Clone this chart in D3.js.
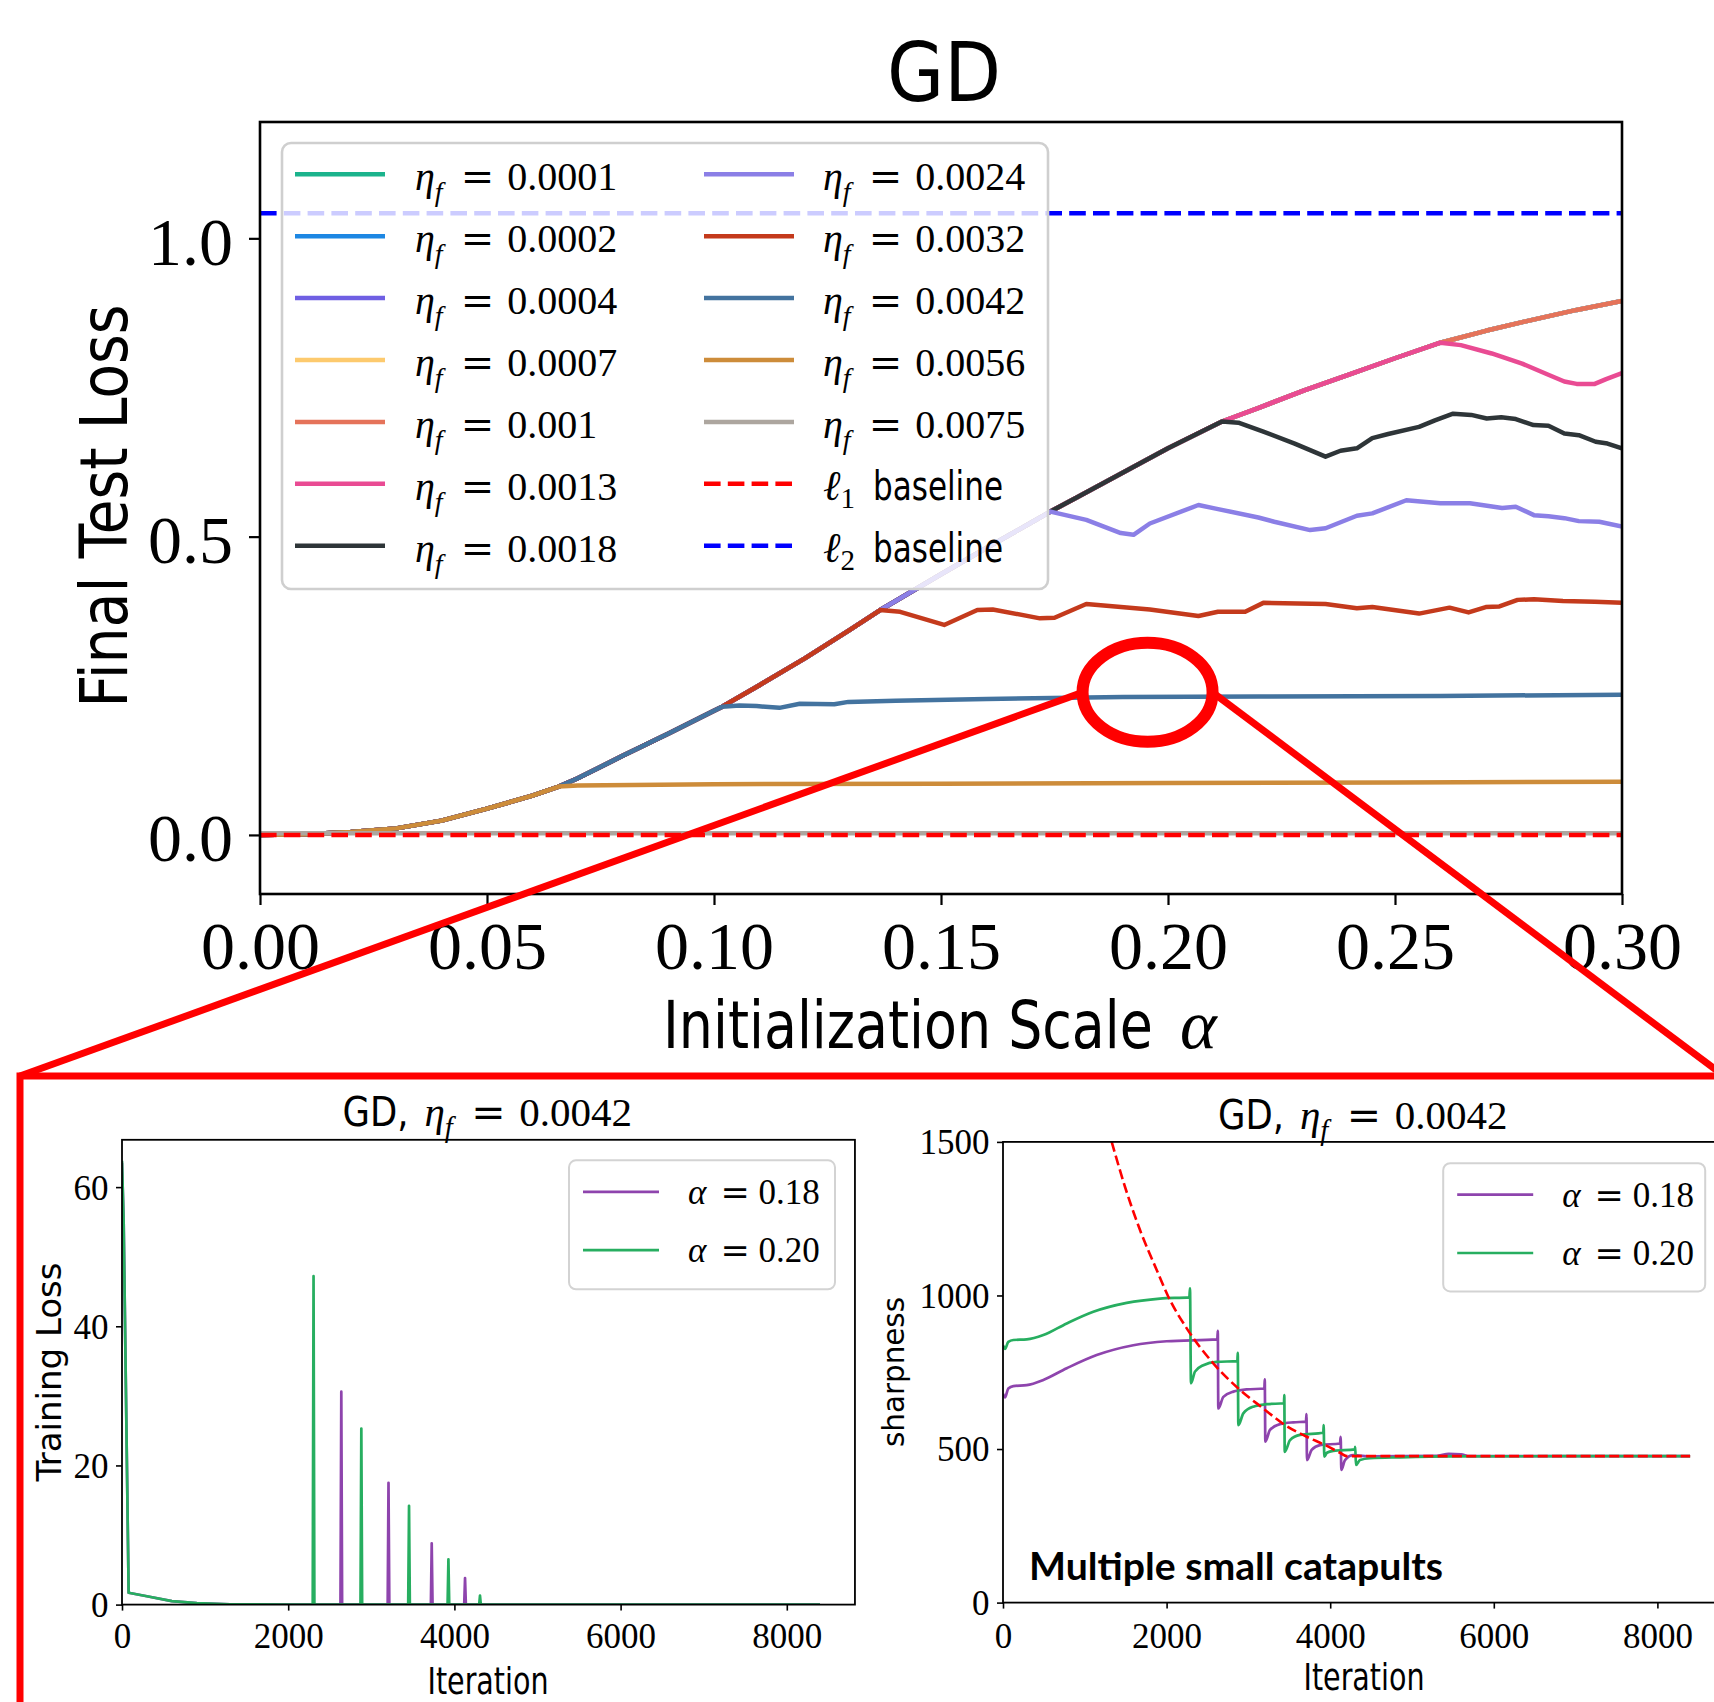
<!DOCTYPE html>
<html>
<head>
<meta charset="utf-8">
<script src="https://cdn.jsdelivr.net/npm/d3@7"></script>
<style>
  body { margin: 0; background: #fff; }
  svg { display: block; }
</style>
</head>
<body>
<div id="chart"></div>
<script>
// ---- fonts
const SANS = "'DejaVu Sans Condensed','DejaVu Sans',sans-serif";
const SERIF = "'Liberation Serif','DejaVu Serif',serif";
const EQ_FONT = "'DejaVu Serif','Liberation Serif',serif";   // wider '=' like the TeX one

// ---- top panel: final test loss vs init scale
const etaValues = ["0.0001", "0.0002", "0.0004", "0.0007", "0.001", "0.0013", "0.0018",
                   "0.0024", "0.0032", "0.0042", "0.0056", "0.0075"];
const etaColors = ["#1bb38c", "#1d87e3", "#6f5fe3", "#fdca6e", "#e5735a", "#e94b93", "#2e3538",
                   "#8b7fe6", "#c43a1c", "#43739f", "#cd8c3a", "#ada69f"];

// shared curve that every run follows before it breaks away
const envAlpha = [0, 0.01, 0.02, 0.03, 0.04, 0.05, 0.06, 0.0658, 0.07, 0.08, 0.09, 0.10, 0.1018,
                  0.11, 0.12, 0.13, 0.1366, 0.14, 0.15, 0.16, 0.17, 0.1741, 0.18, 0.19, 0.20, 0.21,
                  0.2119, 0.22, 0.23, 0.24, 0.25, 0.26, 0.27, 0.28, 0.29, 0.30];
const envLoss = [0, 0.001, 0.005, 0.011, 0.024, 0.044, 0.066, 0.081, 0.095, 0.133, 0.170, 0.208, 0.215,
                 0.251, 0.296, 0.344, 0.377, 0.392, 0.437, 0.481, 0.524, 0.542, 0.566, 0.607, 0.648, 0.686,
                 0.693, 0.716, 0.745, 0.772, 0.799, 0.825, 0.845, 0.863, 0.880, 0.895];

// alpha where each run leaves the shared curve (null = never)
const breakAlpha = [null, null, null, null, null, 0.26, 0.2119, 0.1741, 0.1366, 0.1018, 0.0658, 0];

const tail0013 = [[0.26, 0.825], [0.2645, 0.821], [0.2713, 0.807], [0.278, 0.790], [0.2839, 0.771],
  [0.2873, 0.760], [0.290, 0.756], [0.294, 0.756], [0.2965, 0.764], [0.30, 0.774]];
const tail0018 = [[0.2119, 0.693], [0.2155, 0.691], [0.221, 0.676], [0.2279, 0.656], [0.2347, 0.634],
  [0.238, 0.644], [0.2416, 0.648], [0.245, 0.665], [0.2485, 0.672], [0.2553, 0.684], [0.2588, 0.695],
  [0.2628, 0.706], [0.2668, 0.704], [0.2702, 0.698], [0.2734, 0.700], [0.2766, 0.697], [0.2805, 0.687],
  [0.2838, 0.686], [0.2873, 0.673], [0.2905, 0.670], [0.2942, 0.659], [0.2968, 0.656], [0.30, 0.648]];
const tail0024 = [[0.1741, 0.542], [0.182, 0.528], [0.1896, 0.506], [0.1924, 0.503], [0.196, 0.522],
  [0.2067, 0.553], [0.2105, 0.547], [0.2199, 0.532], [0.2234, 0.525], [0.2313, 0.511], [0.2347, 0.514],
  [0.2416, 0.535], [0.245, 0.539], [0.2525, 0.561], [0.26, 0.556], [0.2665, 0.556], [0.2736, 0.548],
  [0.2766, 0.550], [0.2806, 0.536], [0.2838, 0.534], [0.2873, 0.531], [0.2905, 0.526], [0.295, 0.525],
  [0.30, 0.517]];
const tail0032 = [[0.1366, 0.377], [0.141, 0.374], [0.1507, 0.352], [0.158, 0.377], [0.1614, 0.378],
  [0.1718, 0.363], [0.175, 0.364], [0.182, 0.387], [0.196, 0.378], [0.2067, 0.367], [0.211, 0.374],
  [0.217, 0.374], [0.221, 0.389], [0.2347, 0.387], [0.2416, 0.380], [0.245, 0.382], [0.2553, 0.371],
  [0.262, 0.381], [0.2662, 0.373], [0.270, 0.382], [0.273, 0.383], [0.277, 0.394], [0.2806, 0.395],
  [0.287, 0.392], [0.294, 0.391], [0.30, 0.389]];
const tail0042 = [[0.1018, 0.215], [0.1056, 0.217], [0.1094, 0.216], [0.1144, 0.213], [0.1189, 0.220],
  [0.1265, 0.219], [0.1296, 0.223], [0.14, 0.225], [0.16, 0.228], [0.19, 0.231], [0.22, 0.232],
  [0.26, 0.233], [0.30, 0.235]];
const tail0056 = [[0.0658, 0.081], [0.07, 0.083], [0.10, 0.085], [0.15, 0.086], [0.20, 0.087],
  [0.25, 0.088], [0.30, 0.089]];
const tail0075 = [[0, 0.003], [0.05, 0.003], [0.10, 0.003], [0.15, 0.003], [0.20, 0.003],
  [0.25, 0.003], [0.30, 0.003]];
const tails = [null, null, null, null, null, tail0013, tail0018, tail0024, tail0032, tail0042, tail0056, tail0075];

const l1Baseline = 0;
const l2Baseline = 1.042;
const alphaTicks = [0, 0.05, 0.10, 0.15, 0.20, 0.25, 0.30];
const lossTicks = [0, 0.5, 1.0];
const zoomSpot = [0.1955, 0.239];   // the circled spot

// ---- bottom insets (eta_f = 0.0042)
const lossA18 = [[0, 63.5], [20, 55], [80, 1.7], [300, 1.2], [600, 0.5], [900, 0.2], [1300, 0.05],
  [2000, 0.01], [2629, 0.01], [2639, 30.6], [2649, 0.01], [3197, 0.01], [3207, 17.5], [3217, 0.01],
  [3717, 0.01], [3727, 8.8], [3737, 0.01], [4118, 0.01], [4128, 3.8], [4138, 0.01], [5000, 0.005], [8400, 0.003]];
const lossA20 = [[0, 63.8], [20, 55], [80, 1.7], [300, 1.2], [600, 0.5], [900, 0.2], [1300, 0.05],
  [2000, 0.01], [2295, 0.01], [2305, 47.2], [2315, 0.01], [2870, 0.01], [2880, 25.3], [2890, 0.01],
  [3444, 0.01], [3454, 14.2], [3464, 0.01], [3918, 0.01], [3928, 6.5], [3938, 0.01], [4298, 0.01],
  [4308, 1.3], [4318, 0.01], [5000, 0.005], [8400, 0.003]];

const sharpA18 = [[0, 680], [24, 668], [65, 697], [126, 705], [290, 708], [493, 725], [779, 763],
  [1145, 806], [1593, 838], [2001, 851], [2620, 857], [2626, 885], [2632, 632], [2694, 670], [2816, 687],
  [2979, 694], [3195, 697], [3200, 727], [3207, 524], [3264, 562], [3386, 581], [3549, 587], [3704, 589],
  [3710, 614], [3716, 464], [3773, 497], [3875, 513], [4120, 518], [4128, 540], [4136, 432], [4181, 464],
  [4283, 480], [4500, 476], [5300, 478], [5450, 484], [5600, 483], [5700, 477], [8400, 477]];
const sharpA20 = [[0, 838], [24, 826], [65, 849], [126, 855], [290, 857], [493, 871], [779, 909],
  [1104, 947], [1512, 976], [1919, 990], [2278, 994], [2286, 1023], [2298, 714], [2347, 752], [2449, 773],
  [2612, 784], [2865, 786], [2870, 813], [2877, 578], [2938, 616], [3060, 638], [3223, 646], [3435, 649],
  [3439, 676], [3444, 491], [3509, 529], [3631, 546], [3916, 553], [3920, 578], [3928, 475], [3960, 488],
  [4038, 494], [4303, 499], [4306, 507], [4315, 448], [4364, 464], [4487, 470], [4853, 473], [5500, 476],
  [8400, 477]];
const sharpLimit = [[1329, 1500], [1491, 1354], [1675, 1213], [1879, 1083], [2021, 996], [2246, 893],
  [2571, 779], [2877, 697], [3182, 632], [3448, 578], [3713, 540], [3936, 513], [4120, 488], [4202, 477],
  [8400, 477]];

const iterTicks = [0, 2000, 4000, 6000, 8000];
const trainTicks = [0, 20, 40, 60];
const sharpTicks = [0, 500, 1000, 1500];
const alphaRuns = ["0.18", "0.20"];
const runColors = ["#8e44ad", "#27ae60"];

// ---------------------------------------------------------------
const W = 1714, H = 1702;
const svg = d3.select("#chart").append("svg")
  .attr("width", W).attr("height", H)
  .style("background", "#fff");

// "sym = value" in TeX-ish style; sub is an optional subscript
function mathText(g, x, y, size, sym, sub, value) {
  const t = g.append("text").attr("x", x).attr("y", y)
    .attr("font-family", SERIF).attr("font-size", size).attr("fill", "#000");
  t.append("tspan").attr("font-style", "italic").text(sym);
  if (sub) {
    t.append("tspan").attr("font-style", "italic").attr("font-size", size * 0.7)
      .attr("dy", size * 0.27).text(sub);
    t.append("tspan").attr("dy", -size * 0.27).attr("dx", size * 0.45)
      .attr("font-family", EQ_FONT).text("=");
  } else {
    t.append("tspan").attr("dx", size * 0.4).attr("font-family", EQ_FONT).text("=");
  }
  t.append("tspan").attr("dx", size * (sub ? 0.33 : 0.25)).text(value);
  return t;
}

// squeeze a text horizontally to a given width (keeps its box honest)
function fitWidth(t, x0, y0, width) {
  const w = t.node().getComputedTextLength();
  t.attr("x", 0).attr("y", 0)
    .attr("transform", `translate(${x0},${y0}) scale(${width / w},1)`);
}

// ================= top panel =================
const x = d3.scaleLinear().domain([0, 0.3]).range([260, 1622]);
const y = d3.scaleLinear().domain([-0.099, 1.195]).range([894, 122]);

const topPanel = svg.append("g");
topPanel.append("clipPath").attr("id", "clipMain")
  .append("rect").attr("x", 260).attr("y", 122).attr("width", 1362).attr("height", 772);

const plotArea = topPanel.append("g").attr("clip-path", "url(#clipMain)");
const line = d3.line().x(d => x(d[0])).y(d => y(d[1])).curve(d3.curveLinear);

etaValues.forEach((eta, i) => {
  const env = envAlpha.map((a, k) => [a, envLoss[k]]);
  const b = breakAlpha[i];
  const pts = b === null ? env : env.filter(d => d[0] < b).concat(tails[i]);
  plotArea.append("path").datum(pts)
    .attr("d", line)
    .attr("fill", "none")
    .attr("stroke", etaColors[i])
    .attr("stroke-width", 4.5)
    .attr("stroke-linejoin", "round");
});

// baselines
[[l1Baseline, "#ff0000"], [l2Baseline, "#0000ff"]].forEach(([v, c]) => {
  plotArea.append("path").datum([[0, v], [0.3, v]])
    .attr("d", line)
    .attr("fill", "none").attr("stroke", c)
    .attr("stroke-width", 4.5).attr("stroke-dasharray", "16.6,7.2");
});

// axes
const xAxis = topPanel.append("g").attr("transform", "translate(0,894)")
  .call(d3.axisBottom(x).tickValues(alphaTicks).tickFormat(d3.format(".2f")).tickSize(11).tickPadding(16));
const yAxis = topPanel.append("g").attr("transform", "translate(260,0)")
  .call(d3.axisLeft(y).tickValues(lossTicks).tickFormat(d3.format(".1f")).tickSize(11).tickPadding(16));
[xAxis, yAxis].forEach(a => {
  a.select(".domain").remove();
  a.selectAll("line").attr("stroke", "#000").attr("stroke-width", 2.2);
  a.selectAll("text").attr("font-family", SERIF).attr("font-size", 68).attr("fill", "#000");
});
yAxis.selectAll("text").attr("dy", "0.38em");

topPanel.append("rect").attr("x", 260).attr("y", 122).attr("width", 1362).attr("height", 772)
  .attr("fill", "none").attr("stroke", "#000").attr("stroke-width", 2.6);

// title and labels
topPanel.append("text").attr("x", 944).attr("y", 101).attr("text-anchor", "middle")
  .attr("font-family", SANS).attr("font-stretch", "condensed").attr("font-size", 82).text("GD");
topPanel.append("text")
  .attr("transform", "translate(127,506) rotate(-90)")
  .attr("text-anchor", "middle")
  .attr("font-family", SANS).attr("font-stretch", "condensed").attr("font-size", 66)
  .attr("textLength", 403).attr("lengthAdjust", "spacingAndGlyphs")
  .text("Final Test Loss");
const xLabel = topPanel.append("text")
  .attr("font-family", SANS).attr("font-stretch", "condensed").attr("font-size", 66)
  .text("Initialization Scale");
fitWidth(xLabel, 663, 1048, 490);
topPanel.append("text").attr("x", 1180).attr("y", 1048)
  .attr("font-family", SERIF).attr("font-style", "italic").attr("font-size", 70).text("α");

// legend
const leg = topPanel.append("g");
leg.append("rect").attr("x", 282).attr("y", 143).attr("width", 766).attr("height", 446)
  .attr("rx", 9).attr("fill", "#fff").attr("fill-opacity", 0.8)
  .attr("stroke", "#cfcfcf").attr("stroke-width", 2.6);
const legendItems = etaValues.map((v, i) => ({ kind: "eta", v, color: etaColors[i] }))
  .concat([{ kind: "l", v: "1", color: "#ff0000" }, { kind: "l", v: "2", color: "#0000ff" }]);
legendItems.forEach((it, i) => {
  const col = Math.floor(i / 7), row = i % 7;
  const ly = 174.3 + row * 61.9;
  const lx = col === 0 ? 295 : 704;
  const tx = col === 0 ? 415 : 823;
  const ln = leg.append("line").attr("x1", lx).attr("x2", lx + 90).attr("y1", ly).attr("y2", ly)
    .attr("stroke", it.color).attr("stroke-width", 4.5);
  if (it.kind === "eta") {
    mathText(leg, tx, ly + 16, 40, "η", "f", it.v);
  } else {
    ln.attr("stroke-dasharray", "16.6,7.2");
    const t = leg.append("text").attr("x", tx).attr("y", ly + 16)
      .attr("font-family", SERIF).attr("font-size", 42);
    t.append("tspan").attr("font-style", "italic").text("ℓ");
    t.append("tspan").attr("font-size", 29).attr("dy", 8).text(it.v);
    leg.append("text").attr("x", 873).attr("y", ly + 16)
      .attr("font-family", SANS).attr("font-stretch", "condensed").attr("font-size", 40)
      .attr("textLength", 130).attr("lengthAdjust", "spacingAndGlyphs")
      .text("baseline");
  }
});

// ================= insets =================
function inset(cfg) {
  const g = svg.append("g");
  const xs = d3.scaleLinear().domain([0, 8820]).range([cfg.x0, cfg.x0 + 8820 / 2000 * cfg.per2000]);
  const ys = d3.scaleLinear().domain(cfg.yDomain).range([cfg.y1, cfg.y0]);
  const id = "clip" + cfg.name;
  g.append("clipPath").attr("id", id).append("rect")
    .attr("x", cfg.x0).attr("y", cfg.y0).attr("width", xs(8820) - cfg.x0).attr("height", cfg.y1 - cfg.y0);
  const area = g.append("g").attr("clip-path", `url(#${id})`);
  const ln = d3.line().x(d => xs(d[0])).y(d => ys(d[1])).curve(cfg.curve);
  cfg.series.forEach((s, i) => {
    area.append("path").datum(s).attr("d", ln)
      .attr("fill", "none").attr("stroke", runColors[i]).attr("stroke-width", 2.7)
      .attr("stroke-linejoin", "round");
  });
  if (cfg.limit) {
    area.append("path").datum(cfg.limit)
      .attr("d", d3.line().x(d => xs(d[0])).y(d => ys(d[1])).curve(d3.curveMonotoneX))
      .attr("fill", "none").attr("stroke", "#ff0000").attr("stroke-width", 2.6)
      .attr("stroke-dasharray", "10,4.3");
  }
  const ax = g.append("g").attr("transform", `translate(0,${cfg.y1})`)
    .call(d3.axisBottom(xs).tickValues(iterTicks).tickFormat(d3.format("d")).tickSize(6).tickPadding(cfg.xPad));
  const ay = g.append("g").attr("transform", `translate(${cfg.x0},0)`)
    .call(d3.axisLeft(ys).tickValues(cfg.yTicks).tickFormat(d3.format("d")).tickSize(6).tickPadding(7.5));
  [ax, ay].forEach(a => {
    a.select(".domain").remove();
    a.selectAll("line").attr("stroke", "#000").attr("stroke-width", 1.6);
    a.selectAll("text").attr("font-family", SERIF).attr("font-size", 35).attr("fill", "#000");
  });
  ay.selectAll("text").attr("dy", "0.34em");
  g.append("rect").attr("x", cfg.x0).attr("y", cfg.y0)
    .attr("width", xs(8820) - cfg.x0).attr("height", cfg.y1 - cfg.y0)
    .attr("fill", "none").attr("stroke", "#000").attr("stroke-width", 1.8);

  // title
  const cx = cfg.titleX;
  g.append("text").attr("x", cx - 146).attr("y", cfg.titleY)
    .attr("font-family", SANS).attr("font-stretch", "condensed").attr("font-size", 41)
    .attr("textLength", 66).attr("lengthAdjust", "spacingAndGlyphs").text("GD,");
  mathText(g, cx - 64, cfg.titleY, 41, "η", "f", "0.0042");

  // axis labels
  g.append("text").attr("x", cfg.xLabelX).attr("y", cfg.xLabelY).attr("text-anchor", "middle")
    .attr("font-family", SANS).attr("font-stretch", "condensed").attr("font-size", 38)
    .attr("textLength", 121).attr("lengthAdjust", "spacingAndGlyphs").text("Iteration");
  g.append("text")
    .attr("transform", `translate(${cfg.yLabelX},1372) rotate(-90)`)
    .attr("text-anchor", "middle")
    .attr("font-family", SANS).attr("font-stretch", "condensed").attr("font-size", cfg.yLabelSize)
    .attr("textLength", cfg.yLabelLen).attr("lengthAdjust", "spacingAndGlyphs")
    .text(cfg.yLabel);

  // legend
  const L = cfg.legend;
  g.append("rect").attr("x", L.x).attr("y", L.y).attr("width", L.w).attr("height", L.h)
    .attr("rx", 7).attr("fill", "#fff").attr("fill-opacity", 0.8)
    .attr("stroke", "#d3d3d3").attr("stroke-width", 2);
  alphaRuns.forEach((a, i) => {
    const ly = L.y + 31.5 + i * 58.3;
    g.append("line").attr("x1", L.x + 14).attr("x2", L.x + 90).attr("y1", ly).attr("y2", ly)
      .attr("stroke", runColors[i]).attr("stroke-width", 2.7);
    mathText(g, L.x + 119, ly + 12, 35, "α", null, a);
  });
  return g;
}

inset({
  name: "Loss", x0: 122, per2000: 166.2, y0: 1139.8, y1: 1604.6, yDomain: [0, 66.8],
  yTicks: trainTicks, series: [lossA18, lossA20], curve: d3.curveLinear, xPad: 12.5,
  titleX: 488.5, titleY: 1126, xLabelX: 488, xLabelY: 1694,
  yLabel: "Training Loss", yLabelX: 61, yLabelSize: 34, yLabelLen: 219,
  legend: { x: 569, y: 1160.3, w: 266, h: 129 }
});
const right = inset({
  name: "Sharp", x0: 1003, per2000: 163.6, y0: 1141.9, y1: 1602.6, yDomain: [0, 1500],
  yTicks: sharpTicks, series: [sharpA18, sharpA20], curve: d3.curveMonotoneX, limit: sharpLimit, xPad: 14.5,
  titleX: 1364, titleY: 1129, xLabelX: 1364, xLabelY: 1690,
  yLabel: "sharpness", yLabelX: 904, yLabelSize: 30, yLabelLen: 150,
  legend: { x: 1443.2, y: 1163.2, w: 262, h: 128.2 }
});
right.append("text").attr("x", 1029).attr("y", 1580)
  .attr("font-family", "Lato, 'Open Sans', sans-serif").attr("font-weight", 700).attr("font-size", 38)
  .attr("textLength", 414).attr("lengthAdjust", "spacingAndGlyphs")
  .text("Multiple small catapults");

// ================= zoom annotation =================
const note = svg.append("g").attr("fill", "none").attr("stroke", "#ff0000");
const zx = x(zoomSpot[0]), zy = y(zoomSpot[1]);
note.append("rect").attr("x", 20).attr("y", 1076).attr("width", 1800).attr("height", 900)
  .attr("stroke-width", 7);
note.append("line").attr("x1", zx - 65).attr("y1", zy).attr("x2", 20).attr("y2", 1076)
  .attr("stroke-width", 7);
note.append("line").attr("x1", zx + 65).attr("y1", zy).attr("x2", 1724).attr("y2", 1076)
  .attr("stroke-width", 7);
note.append("ellipse").attr("cx", zx).attr("cy", zy).attr("rx", 65).attr("ry", 49.5)
  .attr("stroke-width", 12);
</script>
</body>
</html>
